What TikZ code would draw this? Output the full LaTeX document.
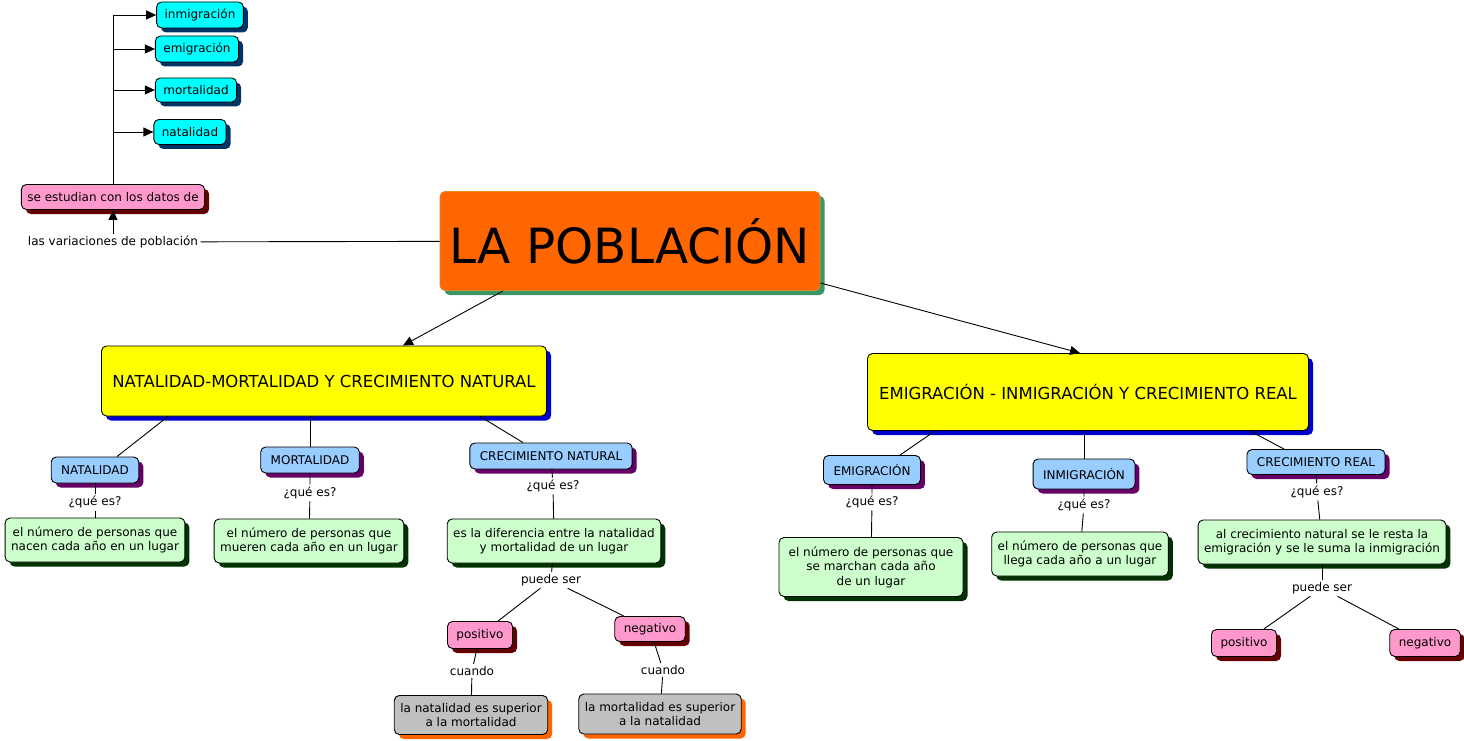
\documentclass[tikz,border=0pt]{standalone}
\usepackage{fontspec}
\setmainfont{DejaVu Sans}
\usetikzlibrary{positioning,arrows.meta}
\usetikzlibrary{shadows}

\definecolor{naranja}{HTML}{FF6600}
\definecolor{bordenar}{RGB}{225,140,40}
\definecolor{sombraver}{RGB}{60,150,100}
\definecolor{amarillo}{HTML}{FFFF00}
\definecolor{sombraazul}{HTML}{0000CC}
\definecolor{celeste}{HTML}{99CCFF}
\definecolor{morado}{HTML}{660066}
\definecolor{verdeclaro}{HTML}{CCFFCC}
\definecolor{verdeosc}{HTML}{003300}
\definecolor{rosa}{HTML}{FF99CC}
\definecolor{granate}{HTML}{660000}
\definecolor{gris}{HTML}{C0C0C0}
\definecolor{cian}{HTML}{00FFFF}
\definecolor{marino}{HTML}{003366}

\begin{document}
\begin{tikzpicture}[x=1pt,y=-1pt,line width=0.9pt,
  caja/.style={draw=black,rounded corners=5pt,align=center,
    inner xsep=6pt,font=\fontsize{12}{14.5}\selectfont},
  sombra/.style={drop shadow={fill=#1,opacity=1,shadow xshift=4.5pt,shadow yshift=-4.5pt}},
  principal/.style={caja,fill=naranja,draw=bordenar,sombra=sombraver,
    minimum width=380pt,minimum height=99pt,font=\fontsize{48.5}{56}\selectfont},
  tema/.style={caja,fill=amarillo,sombra=sombraazul,minimum height=70pt,
    font=\fontsize{16.5}{19}\selectfont},
  concepto/.style={caja,fill=celeste,sombra=morado,minimum height=26pt,inner xsep=10pt},
  definicion/.style={caja,fill=verdeclaro,sombra=verdeosc,minimum height=44pt},
  signo/.style={caja,fill=rosa,sombra=granate,minimum height=26pt,inner xsep=9pt},
  condicion/.style={caja,fill=gris,sombra=naranja,minimum height=39pt},
  dato/.style={caja,fill=cian,sombra=marino,minimum height=26pt,inner xsep=8pt},
  enlace/.style={inner sep=2pt,font=\fontsize{12}{14.5}\selectfont},
  flecha/.style={-{Triangle[length=10pt,width=9pt]}}]
  \useasboundingbox (0,0) rectangle (1464,741);

  % nodo central
  \node[principal] (pob) at (630,241) {LA POBLACIÓN};

  % variaciones y datos
  \node[enlace] (var) at (113,242) {las variaciones de población};
  \node[signo,minimum height=25pt,inner xsep=6pt] (estud) at (113,197) {se estudian con los datos de};
  \node[dato] (inmd) at (200,15) {inmigración};
  \node[dato] (emid) at (197,49) {emigración};
  \node[dato,minimum height=24pt] (mortd) at (196,90) {mortalidad};
  \node[dato,minimum height=25pt] (natd) at (190,132) {natalidad};

  % temas
  \node[tema,minimum width=445pt] (natmort) at (324,381) {NATALIDAD-MORTALIDAD Y CRECIMIENTO NATURAL};
  \node[tema,minimum width=441pt,minimum height=77pt] (emiinm) at (1088,392) {EMIGRACIÓN - INMIGRACIÓN Y CRECIMIENTO REAL};

  % conceptos
  \node[concepto] (nat) at (95,470) {NATALIDAD};
  \node[concepto] (mort) at (310,460) {MORTALIDAD};
  \node[concepto] (crecnat) at (551,456) {CRECIMIENTO NATURAL};
  \node[concepto,minimum height=29pt] (emig) at (872,470) {EMIGRACIÓN};
  \node[concepto,minimum height=30pt] (inmig) at (1084,474) {INMIGRACIÓN};
  \node[concepto,minimum height=25pt] (crecreal) at (1316,462) {CRECIMIENTO REAL};

  % ¿qué es?
  \node[enlace] (q1) at (95,502) {¿qué es?};
  \node[enlace] (q2) at (310,493) {¿qué es?};
  \node[enlace] (q3) at (553,486) {¿qué es?};
  \node[enlace] (q4) at (872,502) {¿qué es?};
  \node[enlace] (q5) at (1084,505) {¿qué es?};
  \node[enlace] (q6) at (1317,492) {¿qué es?};

  % definiciones
  \node[definicion] (dnat) at (95,540) {el número de personas que\\nacen cada año en un lugar};
  \node[definicion] (dmort) at (309,541) {el número de personas que\\mueren cada año en un lugar};
  \node[definicion] (dcrec) at (554,541) {es la diferencia entre la natalidad\\y mortalidad de un lugar};
  \node[definicion,minimum height=59pt,minimum width=184pt] (demig) at (871,567) {el número de personas que\\se marchan cada año\\de un lugar};
  \node[definicion] (dinmig) at (1080,554) {el número de personas que\\llega cada año a un lugar};
  \node[definicion] (dreal) at (1322,542) {al crecimiento natural se le resta la\\emigración y se le suma la inmigración};

  % puede ser
  \node[enlace] (ps1) at (551,580) {puede ser};
  \node[enlace] (ps2) at (1322,588) {puede ser};
  \node[signo,minimum height=27pt] (pos1) at (480,635) {positivo};
  \node[signo,minimum height=25pt] (neg1) at (650,629) {negativo};
  \node[signo,minimum height=27pt] (pos2) at (1244,643) {positivo};
  \node[signo,minimum height=27pt] (neg2) at (1425,643) {negativo};

  % cuando
  \node[enlace] (c1) at (472,671) {cuando};
  \node[enlace] (c2) at (663,670) {cuando};
  \node[condicion] (cpos) at (471,715) {la natalidad es superior\\a la mortalidad};
  \node[condicion,minimum height=40pt] (cneg) at (660,714) {la mortalidad es superior\\a la natalidad};

  % conexiones
  \draw (pob) -- (var);
  \draw[flecha] (var) -- (estud);
  \draw[flecha] (estud.north) |- (inmd);
  \draw[flecha] (estud.north |- emid) -- (emid);
  \draw[flecha] (estud.north |- mortd) -- (mortd);
  \draw[flecha] (estud.north |- natd) -- (natd);

  \draw[flecha] ([xshift=-127pt]pob.south) -- ([xshift=79pt]natmort.north);
  \draw[flecha] ([yshift=-42pt]pob.east) -- ([xshift=-8pt]emiinm.north);

  \draw ([xshift=-156pt]natmort.south) -- ([xshift=22pt]nat.north);
  \draw ([xshift=-14pt]natmort.south) -- (mort);
  \draw ([xshift=156pt]natmort.south) -- ([xshift=-28pt]crecnat.north);
  \draw ([xshift=-153pt]emiinm.south) -- ([xshift=28pt]emig.north);
  \draw ([xshift=-4pt]emiinm.south) -- (inmig);
  \draw ([xshift=162pt]emiinm.south) -- ([xshift=-32pt]crecreal.north);

  \draw (nat) -- (q1) -- (dnat);
  \draw (mort) -- (q2) -- (dmort);
  \draw (crecnat) -- (q3) -- (dcrec);
  \draw (emig) -- (q4) -- (demig);
  \draw (inmig) -- (q5) -- (dinmig);
  \draw (crecreal) -- (q6) -- (dreal);

  \draw (dcrec) -- (ps1);
  \draw (ps1) -- (pos1);
  \draw (ps1) -- (neg1);
  \draw (dreal) -- (ps2);
  \draw (ps2) -- (pos2);
  \draw (ps2) -- (neg2);

  \draw (pos1) -- (c1) -- (cpos);
  \draw (neg1) -- (c2) -- (cneg);
\end{tikzpicture}
\end{document}
